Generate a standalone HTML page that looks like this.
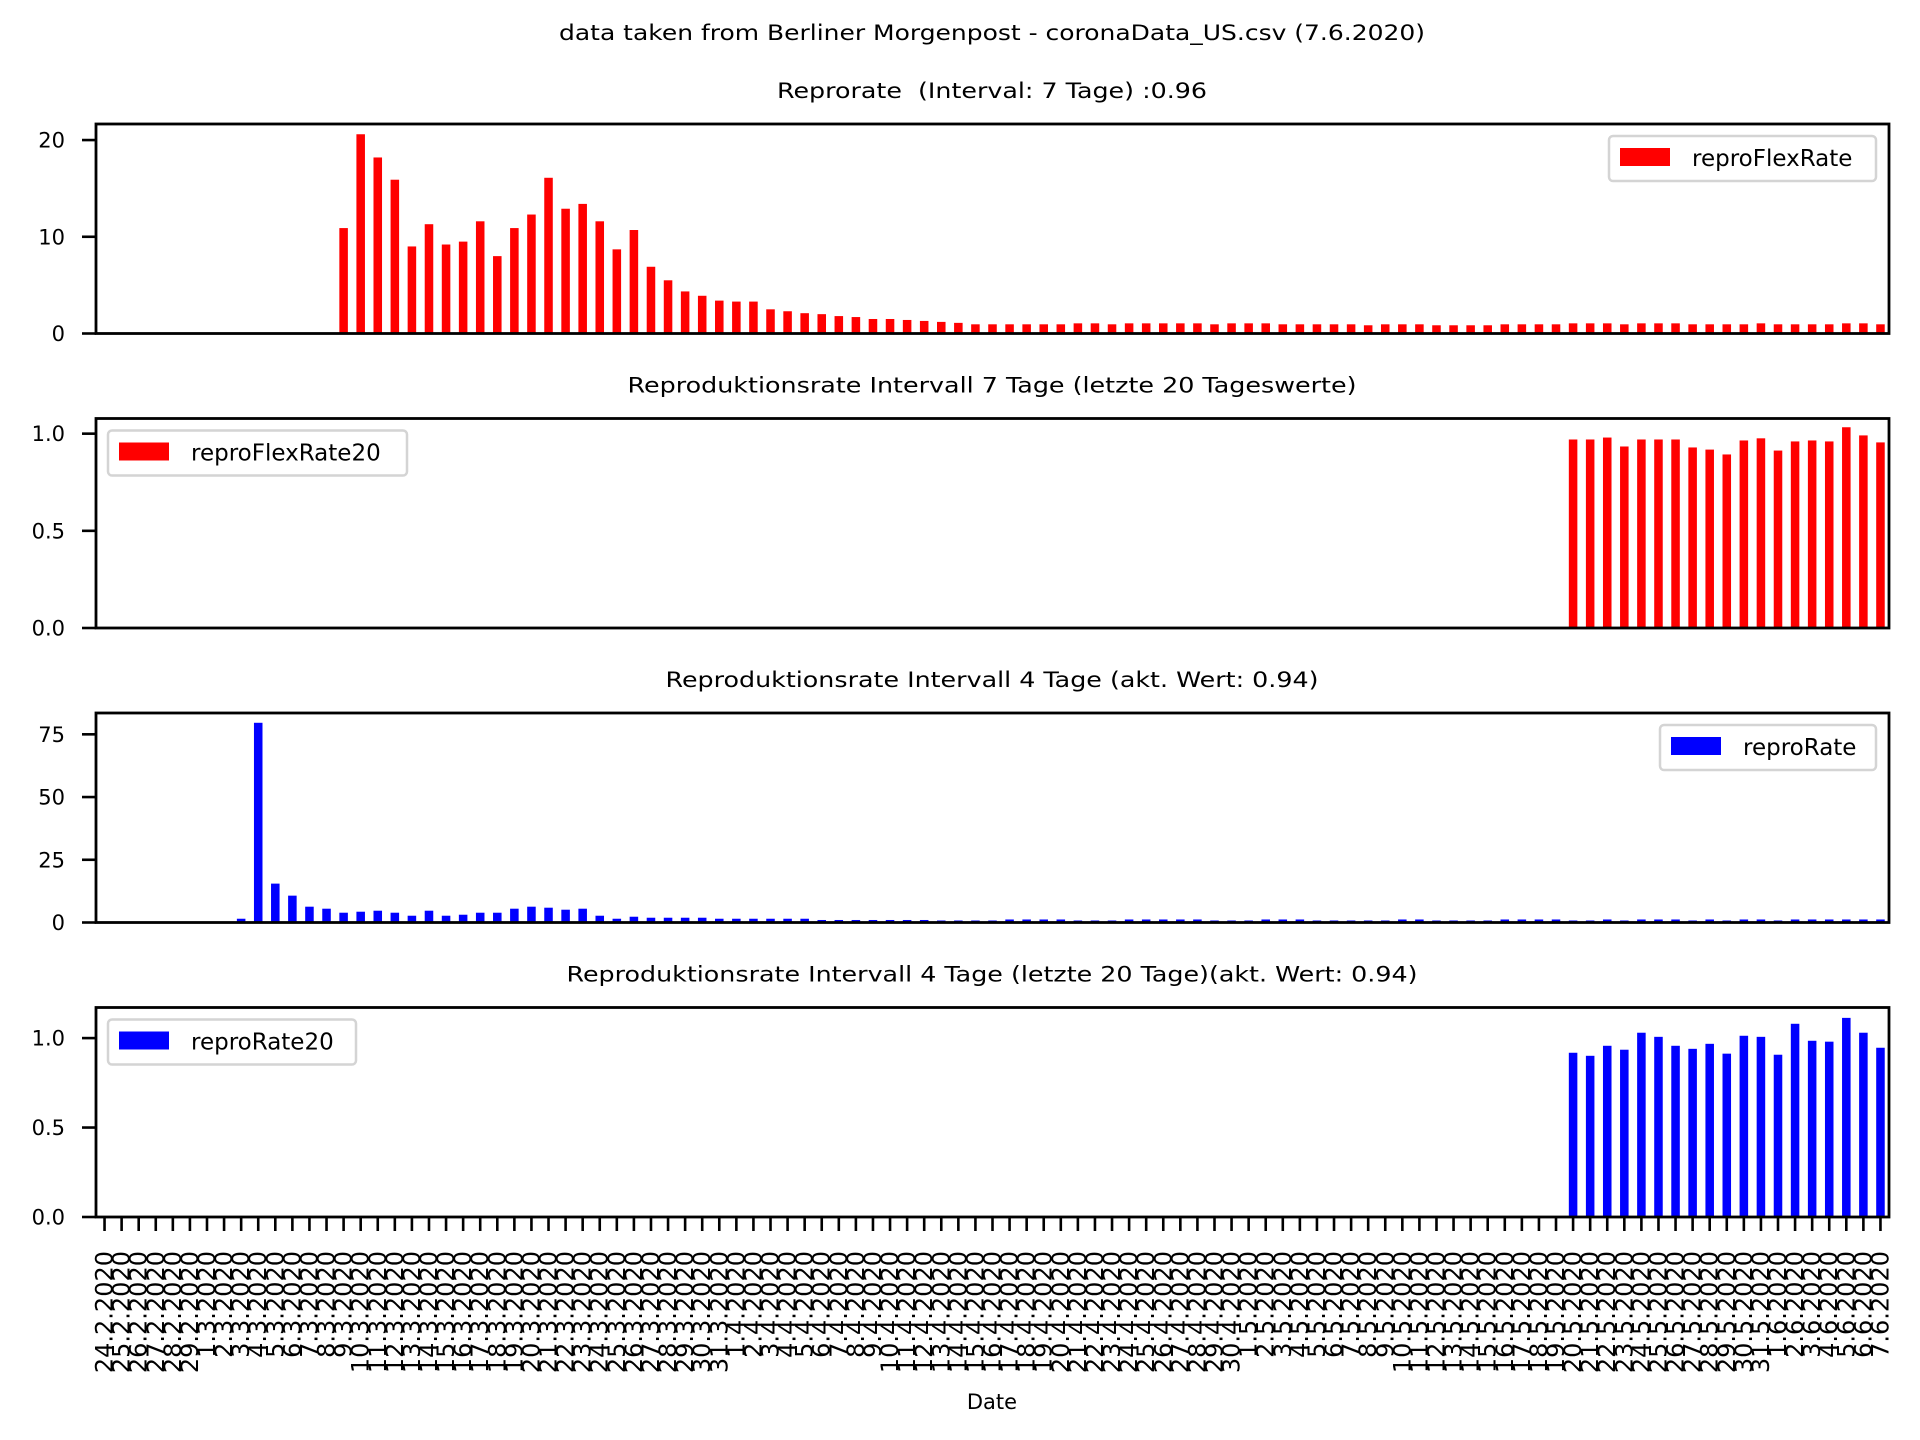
<!DOCTYPE html>
<html><head><meta charset="utf-8"><style>
html,body{margin:0;padding:0;background:#fff}
svg{display:block}
text{font-family:"DejaVu Sans","Liberation Sans",sans-serif;fill:#000}
</style></head><body>
<svg id="fig" width="1920" height="1440" viewBox="0 0 1920 1440" xmlns="http://www.w3.org/2000/svg">
<rect width="1920" height="1440" fill="#fff"/>
<text x="992" y="40" font-size="21" text-anchor="middle" textLength="866" lengthAdjust="spacingAndGlyphs">data taken from Berliner Morgenpost - coronaData_US.csv (7.6.2020)</text>
<g id="plots"></g>
<text x="992" y="1409" font-size="21" text-anchor="middle">Date</text>
</svg>
<script>
const nDays = 105;
const startDay = [24, 2, 2020];
// panel 1: reproFlexRate (index 14..104)
const flexStart = 14;
const flexValues = [10.9,20.6,18.2,15.9,9.0,11.3,9.2,9.5,11.6,8.0,10.9,12.3,16.1,12.9,13.4,11.6,8.7,10.7,6.9,5.5,4.35,3.9,3.4,3.3,3.3,2.5,2.3,2.1,2.0,1.8,1.7,1.5,1.5,1.4,1.3,1.2,1.1,
0.95,0.95,0.95,0.95,0.95,0.95,1.05,1.05,0.95,1.05,1.05,1.05,1.05,1.05,0.95,1.05,1.05,1.05,0.95,0.95,0.95,0.95,0.95,0.85,0.95,0.95,0.95,0.85,0.85,0.85,0.85,0.95,0.95,0.95,0.95,1.05,1.05,1.05,0.95,1.05,1.05,1.05,0.95,0.95,0.95,0.95,1.05,0.95,0.95,0.95,0.95,1.05,1.05,0.95];
// panel 2: reproFlexRate20 (index 86..104)
const flex20Start = 86;
const flex20Values = [0.97,0.97,0.98,0.934,0.97,0.97,0.97,0.929,0.918,0.893,0.965,0.976,0.913,0.96,0.965,0.96,1.033,0.991,0.955];
// panel 3: reproRate (index 8..104)
const rateStart = 8;
const rateValues = [1.5,79.6,15.5,10.7,6.3,5.5,3.9,4.3,4.7,3.9,2.7,4.7,2.7,3.1,3.9,3.9,5.5,6.3,5.9,5.1,5.5,2.7,1.5,2.3,1.9,1.9,1.9,1.9,
1.5,1.5,1.5,1.5,1.5,1.5,1.0,1.0,1.0,1.0,1.0,1.0,1.0,0.8,0.8,0.8,0.8,1.2,1.2,1.2,1.2,0.8,0.8,0.8,1.2,1.2,1.2,1.2,1.2,0.8,0.8,0.8,1.2,1.2,1.2,0.8,0.8,0.8,0.8,0.8,1.2,1.2,0.8,0.8,0.8,0.8,1.2,1.2,1.2,1.2,0.8,0.8,1.2,0.8,1.2,1.2,1.2,0.8,1.2,0.8,1.2,1.2,0.8,1.2,1.2,1.2,1.2,1.2,1.2];
// panel 4: reproRate20 (index 86..104)
const rate20Start = 86;
const rate20Values = [0.918,0.901,0.957,0.935,1.03,1.007,0.957,0.94,0.968,0.913,1.013,1.007,0.907,1.08,0.985,0.98,1.113,1.03,0.946];
const p1Ticks = [0,10,20], p1TickLabels = ["0","10","20"];
const p2Ticks = [0,0.5,1.0], p2TickLabels = ["0.0","0.5","1.0"];
const p3Ticks = [0,25,50,75], p3TickLabels = ["0","25","50","75"];
const p4Ticks = [0,0.5,1.0], p4TickLabels = ["0.0","0.5","1.0"];

const NS = "http://www.w3.org/2000/svg";
const L = 96, R = 1889, H = 209.5;
const plots = document.getElementById('plots');
function mk(tag, attrs, parent) {
  const e = document.createElementNS(NS, tag);
  for (const k in attrs) e.setAttribute(k, attrs[k]);
  (parent || plots).appendChild(e);
  return e;
}
const step = (R - L) / nDays;
function xCenter(i) { return L + (i + 0.5) * step; }

function panel(cfg) {
  const top = cfg.top, bot = top + H;
  const g = mk('g', {});
  
  
  const y = v => bot - v / cfg.ymax * H;
  const t = mk('text', {x: 992, y: top - 26, 'font-size': 21, 'text-anchor': 'middle', textLength: cfg.titleLen, lengthAdjust: 'spacingAndGlyphs'}, g);
  t.textContent = cfg.title;
  
  
  cfg.values.forEach((v, k) => {
    const i = cfg.start + k;
    const b = mk('rect', {x: xCenter(i) - step / 4, y: y(v), width: step / 2, height: bot - y(v), fill: cfg.color}, g);
    
    
  });
  cfg.ticks.forEach((v, k) => {
    mk('line', {x1: L - 14, x2: L, y1: y(v), y2: y(v), stroke: '#000', 'stroke-width': 2.6}, g);
    const tl = mk('text', {x: 65, y: y(v) + 7.5, 'font-size': 21, 'text-anchor': 'end'}, g);
    tl.textContent = cfg.tickLabels[k];
    
    
  });
  const fr = mk('rect', {x: L, y: top, width: R - L, height: H, fill: 'none', stroke: '#000', 'stroke-width': 2.8}, g);
  
  
  const lg = mk('g', {}, g);
  
  
  const lx = cfg.legendX, lw = cfg.legendW;
  mk('rect', {x: lx, y: top + 12, width: lw, height: 45, rx: 4, fill: '#fff', stroke: '#d4d4d4', 'stroke-width': 2.5}, lg);
  mk('rect', {x: lx + 11, y: top + 24, width: 50, height: 18, fill: cfg.color}, lg);
  const lt = mk('text', {x: lx + 83, y: top + 42, 'font-size': 23}, lg);
  lt.textContent = cfg.barName;
  return {bot};
}

panel({name:'panel-repro-flex-rate', top:124, ymax:21.66, title:'Reprorate\u00a0 (Interval: 7 Tage) :0.96', titleLen:430, values:flexValues, start:flexStart, color:'#ff0000', barName:'reproFlexRate', ticks:p1Ticks, tickLabels:p1TickLabels, legendX:1609, legendW:267});
panel({name:'panel-repro-flex-rate20', top:418.5, ymax:1.078, title:'Reproduktionsrate Intervall 7 Tage (letzte 20 Tageswerte)', titleLen:729, values:flex20Values, start:flex20Start, color:'#ff0000', barName:'reproFlexRate20', ticks:p2Ticks, tickLabels:p2TickLabels, legendX:108, legendW:299});
panel({name:'panel-repro-rate', top:713, ymax:83.5, title:'Reproduktionsrate Intervall 4 Tage (akt. Wert: 0.94)', titleLen:653, values:rateValues, start:rateStart, color:'#0000ff', barName:'reproRate', ticks:p3Ticks, tickLabels:p3TickLabels, legendX:1660, legendW:216});
const p4 = panel({name:'panel-repro-rate20', top:1007.5, ymax:1.171, title:'Reproduktionsrate Intervall 4 Tage (letzte 20 Tage)(akt. Wert: 0.94)', titleLen:851, values:rate20Values, start:rate20Start, color:'#0000ff', barName:'reproRate20', ticks:p4Ticks, tickLabels:p4TickLabels, legendX:108, legendW:248});

// x tick labels
const dim = {2: 29, 3: 31, 4: 30, 5: 31, 6: 30};
const dateLabels = [];
let d = startDay[0], m = startDay[1];
for (let i = 0; i < nDays; i++) {
  dateLabels.push(d + '.' + m + '.' + startDay[2]);
  d++; if (d > dim[m]) { d = 1; m++; }
}
dateLabels.forEach((lab, i) => {
  const x = xCenter(i);
  mk('line', {x1: x, x2: x, y1: p4.bot, y2: p4.bot + 14, stroke: '#000', 'stroke-width': 2.6});
  const t = mk('text', {x: x + 8, y: 1251, 'font-size': 24, 'text-anchor': 'end', transform: 'rotate(-90 ' + (x + 8) + ' 1251)'});
  t.textContent = lab;
  
  
});
</script>
</body></html>
